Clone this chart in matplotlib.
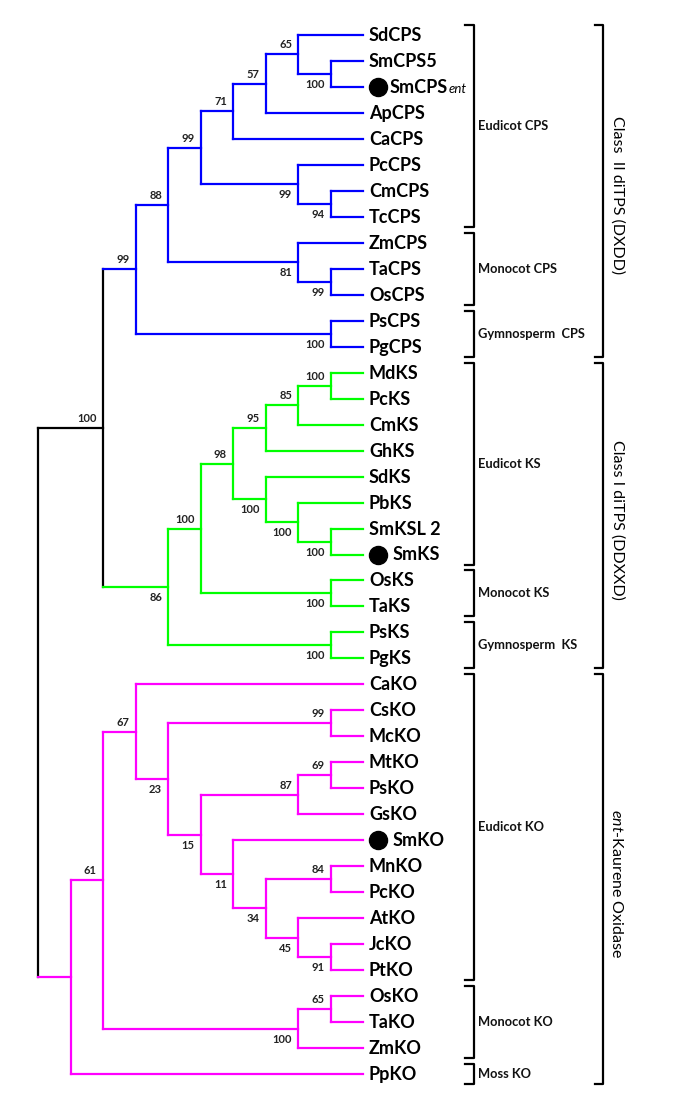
import matplotlib
matplotlib.use("Agg")
import matplotlib.pyplot as plt

# ---------------- data ----------------
CPS_NEWICK = ("((((((SdCPS,(SmCPS5,SmCPSent)100)65,ApCPS)57,CaCPS)71,"
              "(PcCPS,(CmCPS,TcCPS)94)99)99,(ZmCPS,(TaCPS,OsCPS)99)81)88,"
              "(PsCPS,PgCPS)100)99")
KS_NEWICK = ("((((((MdKS,PcKS)100,CmKS)85,GhKS)95,"
             "(SdKS,(PbKS,(SmKSL2,SmKS)100)100)100)98,(OsKS,TaKS)100)100,"
             "(PsKS,PgKS)100)86")
KO_NEWICK = ("(((CaKO,((CsKO,McKO)99,(((MtKO,PsKO)69,GsKO)87,"
             "(SmKO,((MnKO,PcKO)84,(AtKO,(JcKO,PtKO)91)45)34)11)15)23)67,"
             "((OsKO,TaKO)65,ZmKO)100)61,PpKO)")
DITPS_SUPPORT = "100"

CLADE_COLORS = {"CPS": "#0000FF", "KS": "#00FF00", "KO": "#FF00FF", "root": "#000000"}
MARKED = ["SmCPSent", "SmKS", "SmKO"]
DISPLAY = {"SmCPSent": ("SmCPS", "ent"), "SmKSL2": ("SmKSL 2", None)}

SUBGROUPS = [("Eudicot CPS", "SdCPS", "TcCPS"), ("Monocot CPS", "ZmCPS", "OsCPS"),
             ("Gymnosperm  CPS", "PsCPS", "PgCPS"), ("Eudicot KS", "MdKS", "SmKS"),
             ("Monocot KS", "OsKS", "TaKS"), ("Gymnosperm  KS", "PsKS", "PgKS"),
             ("Eudicot KO", "CaKO", "PtKO"), ("Monocot KO", "OsKO", "ZmKO"),
             ("Moss KO", "PpKO", "PpKO")]
CLASSES = [("Class  II diTPS (DXDD)", "SdCPS", "PgCPS"),
           ("Class I diTPS (DDXXD)", "MdKS", "PgKS"),
           (r"$\mathit{ent}$-Kaurene Oxidase", "CaKO", "PpKO")]


# ---------------- newick parsing ----------------
def parse_newick(s, color):
    pos = 0

    def read_label():
        nonlocal pos
        start = pos
        while pos < len(s) and s[pos] not in ",();":
            pos += 1
        return s[start:pos]

    def node():
        nonlocal pos
        if s[pos] == "(":
            pos += 1
            children = [node()]
            while s[pos] == ",":
                pos += 1
                children.append(node())
            pos += 1  # ')'
            return {"children": children, "label": read_label(), "color": color}
        return {"children": [], "name": read_label(), "color": color}

    return node()


cps = parse_newick(CPS_NEWICK, CLADE_COLORS["CPS"])
ks = parse_newick(KS_NEWICK, CLADE_COLORS["KS"])
ko = parse_newick(KO_NEWICK, CLADE_COLORS["KO"])
ditps = {"children": [cps, ks], "label": DITPS_SUPPORT, "color": CLADE_COLORS["root"]}
root = {"children": [ditps, ko], "label": "", "color": CLADE_COLORS["root"]}

# ---------------- layout ----------------
X0, DX = 38.0, 32.5
Y0, Y1 = 35.0, 1074.0

leaves = []


def collect(n):
    if not n["children"]:
        leaves.append(n)
    for c in n["children"]:
        collect(c)


collect(root)
step = (Y1 - Y0) / (len(leaves) - 1)
for i, lf in enumerate(leaves):
    lf["y"] = Y0 + i * step
leaf_y = {lf["name"]: lf["y"] for lf in leaves}


def height(n):
    n["h"] = 0 if not n["children"] else 1 + max(height(c) for c in n["children"])
    return n["h"]


H = height(root)


def place(n):
    n["x"] = X0 + (H - n["h"]) * DX
    for c in n["children"]:
        place(c)
    if n["children"]:
        n["y"] = (n["children"][0]["y"] + n["children"][-1]["y"]) / 2


place(root)

# ---------------- draw ----------------
plt.rcParams["mathtext.fontset"] = "custom"
plt.rcParams["mathtext.it"] = "Lato:italic"
plt.rcParams["mathtext.rm"] = "Lato"

fig = plt.figure(figsize=(6.97, 11.06), dpi=100)
ax = fig.add_axes([0, 0, 1, 1])
ax.set_xlim(0, 697)
ax.set_ylim(1106, 0)
ax.axis("off")

LW = 1.6
FONT = "Lato"


def draw(n):
    if not n["children"]:
        return
    ys = [c["y"] for c in n["children"]]
    ax.plot([n["x"], n["x"]], [min(ys), max(ys)], color=n["color"], lw=LW,
            solid_capstyle="projecting")
    for k, c in enumerate(n["children"]):
        ax.plot([n["x"], c["x"]], [c["y"], c["y"]], color=c["color"], lw=LW,
                solid_capstyle="projecting")
        if c["children"] and c.get("label"):
            if k == 0:
                ax.text(c["x"] - 6, c["y"] - 4, c["label"], ha="right", va="bottom",
                        fontsize=8, fontweight="bold", color="#222222", family=FONT)
            else:
                ax.text(c["x"] - 6, c["y"] + 5, c["label"], ha="right", va="top",
                        fontsize=8, fontweight="bold", color="#222222", family=FONT)
        draw(c)


draw(root)

fig.canvas.draw()
renderer = fig.canvas.get_renderer()
for lf in leaves:
    name = lf["name"]
    x = lf["x"] + 6
    if name in MARKED:
        ax.plot([lf["x"] + 15], [lf["y"]], "o", color="black", markersize=13)
        x = lf["x"] + 30 if name != "SmCPSent" else lf["x"] + 27
    main, sub = DISPLAY.get(name, (name, None))
    t = ax.text(x, lf["y"] + 6, main, ha="left", va="baseline", fontsize=13,
                fontweight="bold", family=FONT, color="black")
    if sub:
        bb = t.get_window_extent(renderer)
        xe = ax.transData.inverted().transform((bb.x1, bb.y0))[0]
        ax.text(xe, lf["y"] + 6, sub, ha="left", va="baseline", fontsize=9.5,
                style="italic", family=FONT, color="black")

# sub-group brackets
for label, a, b in SUBGROUPS:
    ya, yb = leaf_y[a] - 10, leaf_y[b] + 10
    ax.plot([465, 474, 474, 465], [ya, ya, yb, yb], color="black", lw=1.6)
    ax.text(478, (ya + yb) / 2, label, ha="left", va="center", fontsize=9.3,
            fontweight="bold", family=FONT, color="#111111")

for label, a, b in CLASSES:
    ya, yb = leaf_y[a] - 10, leaf_y[b] + 10
    ax.plot([595, 603, 603, 595], [ya, ya, yb, yb], color="black", lw=1.6)
    ax.text(617, (ya + yb) / 2 + 4, label, ha="center", va="center", rotation=-90,
            fontsize=11.5, family=FONT, color="black")

fig.savefig("out.png", dpi=100)
